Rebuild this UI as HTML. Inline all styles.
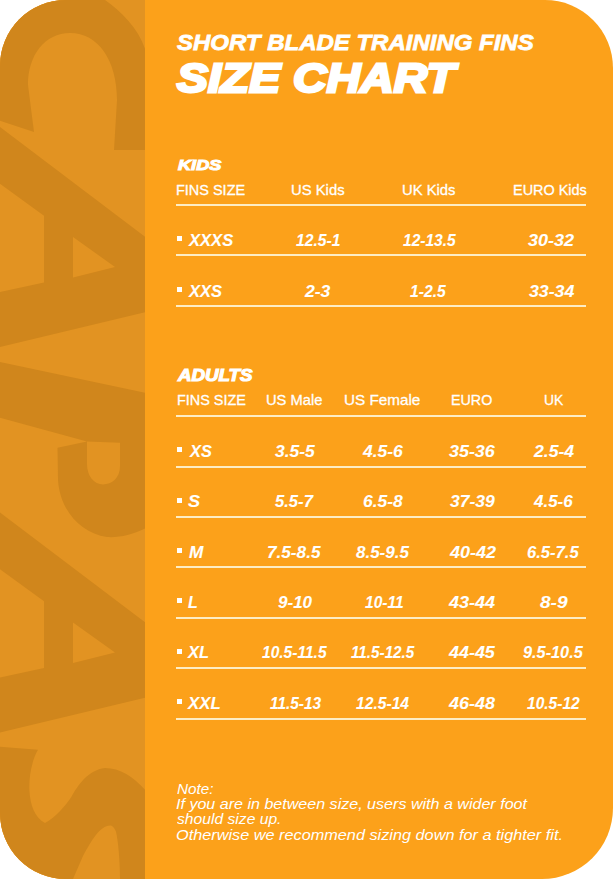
<!DOCTYPE html>
<html><head><meta charset="utf-8">
<style>
html,body{margin:0;padding:0;background:#fff;width:613px;height:879px;overflow:hidden}
body{font-family:"Liberation Sans",sans-serif;color:#fff}
#card{position:absolute;left:0;top:0;width:613px;height:879px;border-radius:66px 68px 71px 66px;overflow:hidden;background:#FCA11A}
#strip{position:absolute;left:0;top:0;width:145px;height:879px;background:#E29322;overflow:hidden}
#capas{position:absolute;left:0;top:0;transform-origin:0 0;font-weight:bold;font-style:italic;color:#D0861C;white-space:nowrap;font-size:215px;line-height:1}
.t{position:absolute;white-space:nowrap;line-height:1;transform-origin:0 0}
.rg{font-weight:normal;font-style:normal}
.it{font-weight:normal;font-style:italic}
.bi{font-weight:bold;font-style:italic}
.hl{position:absolute;left:176px;width:410px;height:2px;background:#FDEDC4}
.b{position:absolute;left:177px;width:5px;height:5px;background:#fff}
</style></head><body>
<div id="card">
  <div id="strip"><svg width="145" height="879" viewBox="0 0 145 879" style="position:absolute;left:0;top:0">
<g fill="#D0861C">
<path d="M -20,-20 L 92,-20 C 98,-12 102,-4 105,0 C 122,12 140,30 146,52 L 150,52 L 150,150 L 114,150 L 117,100 C 117,60 98,33 70,33 C 45,33 28,55 28,85 L 34,132 L -20,114 Z"/>
<path id="A1" fill-rule="evenodd" d="M -20,112 L 150,240.5 L 150,311 L -20,351.8 Z M -20,169 L 44,215.8 L 44,282.4 L -20,296.3 Z M 73,237 L 115,267 L 73,277.5 Z"/>
<path fill-rule="evenodd" d="M -20,357.8 L 150,393.8 L 150,526 C 135,534 120,538 107,537 C 80,533 60,510 58,480 L 57.5,447.7 L 87,441.5 L -20,412.3 Z M 87,441.6 L 120,442.8 L 120,466 C 120,478 112,484.4 103,484.4 C 94,484.4 87,476 87,464 Z"/>
<use href="#A1" transform="translate(0,385.5)"/>
<path d="M -20,745 L 38,749.8 C 31,762 29,778 29.4,790 C 30,805 35,818 45,823 C 55,818 66,805 71,797.5 C 78,785 88,770 105,768 C 122,768 138,780 150,796 L 150,890 L 120,890 L 120,879 C 120,860 118,840 116,831.8 C 114,827 112,825.6 110,825.6 C 100,826 92,840 83,856 L 73,879 L 73,890 L -20,890 Z"/>
</g></svg></div>

  <div class="t bi" style="left:176.66px;top:31.25px;font-size:22.67px;-webkit-text-stroke:0.8px #fff;transform:scaleX(1.0587)">SHORT BLADE TRAINING FINS</div>
<div class="t bi" style="left:177.12px;top:58.45px;font-size:41.41px;-webkit-text-stroke:2.8px #fff;transform:scaleX(1.1214)">SIZE CHART</div>
<div class="t bi" style="left:177.50px;top:157.18px;font-size:15.53px;-webkit-text-stroke:1.1px #fff;transform:scaleX(1.1684)">KIDS</div>
<div class="t bi" style="left:177.60px;top:367.95px;font-size:16.65px;-webkit-text-stroke:1.1px #fff;transform:scaleX(1.1251)">ADULTS</div>
<div class="t rg" style="left:176.21px;top:182.60px;font-size:14.57px;-webkit-text-stroke:0.3px #fff;transform:scaleX(0.9935)">FINS SIZE</div>
<div class="t rg" style="left:290.57px;top:182.55px;font-size:14.57px;-webkit-text-stroke:0.3px #fff;transform:scaleX(1.0178)">US Kids</div>
<div class="t rg" style="left:401.97px;top:182.55px;font-size:14.57px;-webkit-text-stroke:0.3px #fff;transform:scaleX(1.0167)">UK Kids</div>
<div class="t rg" style="left:513.41px;top:182.55px;font-size:14.57px;-webkit-text-stroke:0.3px #fff;transform:scaleX(0.9918)">EURO Kids</div>
<div class="t rg" style="left:176.61px;top:392.80px;font-size:14.57px;-webkit-text-stroke:0.3px #fff;transform:scaleX(0.9898)">FINS SIZE</div>
<div class="t rg" style="left:266.38px;top:393.35px;font-size:14.57px;-webkit-text-stroke:0.3px #fff;transform:scaleX(1.0094)">US Male</div>
<div class="t rg" style="left:344.35px;top:393.35px;font-size:14.57px;-webkit-text-stroke:0.3px #fff;transform:scaleX(1.0477)">US Female</div>
<div class="t rg" style="left:450.62px;top:392.80px;font-size:14.57px;-webkit-text-stroke:0.3px #fff;transform:scaleX(0.9817)">EURO</div>
<div class="t rg" style="left:543.62px;top:392.80px;font-size:14.57px;-webkit-text-stroke:0.3px #fff;transform:scaleX(0.9511)">UK</div>
<div class="t bi" style="left:189.36px;top:231.82px;font-size:16.26px;-webkit-text-stroke:0.1px #fff;transform:scaleX(1.0206)">XXXS</div>
<div class="t bi" style="left:296.16px;top:231.82px;font-size:16.26px;-webkit-text-stroke:0.1px #fff;transform:scaleX(0.9634)">12.5-1</div>
<div class="t bi" style="left:402.56px;top:231.82px;font-size:16.26px;-webkit-text-stroke:0.1px #fff;transform:scaleX(0.9565)">12-13.5</div>
<div class="t bi" style="left:528.00px;top:231.82px;font-size:16.26px;-webkit-text-stroke:0.1px #fff;transform:scaleX(1.1074)">30-32</div>
<div class="t bi" style="left:189.16px;top:282.62px;font-size:16.26px;-webkit-text-stroke:0.1px #fff;transform:scaleX(1.0167)">XXS</div>
<div class="t bi" style="left:305.07px;top:282.62px;font-size:16.26px;-webkit-text-stroke:0.1px #fff;transform:scaleX(1.0801)">2-3</div>
<div class="t bi" style="left:410.36px;top:282.62px;font-size:16.26px;-webkit-text-stroke:0.1px #fff;transform:scaleX(0.9635)">1-2.5</div>
<div class="t bi" style="left:528.60px;top:282.62px;font-size:16.26px;-webkit-text-stroke:0.1px #fff;transform:scaleX(1.0909)">33-34</div>
<div class="t bi" style="left:189.56px;top:442.82px;font-size:16.26px;-webkit-text-stroke:0.1px #fff;transform:scaleX(1.0073)">XS</div>
<div class="t bi" style="left:274.60px;top:442.82px;font-size:16.26px;-webkit-text-stroke:0.1px #fff;transform:scaleX(1.0727)">3.5-5</div>
<div class="t bi" style="left:362.87px;top:442.82px;font-size:16.26px;-webkit-text-stroke:0.1px #fff;transform:scaleX(1.0748)">4.5-6</div>
<div class="t bi" style="left:449.40px;top:442.82px;font-size:16.26px;-webkit-text-stroke:0.1px #fff;transform:scaleX(1.0996)">35-36</div>
<div class="t bi" style="left:533.87px;top:442.82px;font-size:16.26px;-webkit-text-stroke:0.1px #fff;transform:scaleX(1.0811)">2.5-4</div>
<div class="t bi" style="left:188.33px;top:493.22px;font-size:16.26px;-webkit-text-stroke:0.1px #fff;transform:scaleX(1.1220)">S</div>
<div class="t bi" style="left:274.75px;top:493.10px;font-size:16.26px;-webkit-text-stroke:0.1px #fff;transform:scaleX(1.0227)">5.5-7</div>
<div class="t bi" style="left:362.79px;top:493.22px;font-size:16.26px;-webkit-text-stroke:0.1px #fff;transform:scaleX(1.0719)">6.5-8</div>
<div class="t bi" style="left:450.00px;top:493.22px;font-size:16.26px;-webkit-text-stroke:0.1px #fff;transform:scaleX(1.0736)">37-39</div>
<div class="t bi" style="left:534.06px;top:493.22px;font-size:16.26px;-webkit-text-stroke:0.1px #fff;transform:scaleX(1.0429)">4.5-6</div>
<div class="t bi" style="left:188.74px;top:543.62px;font-size:16.26px;-webkit-text-stroke:0.1px #fff;transform:scaleX(1.0594)">M</div>
<div class="t bi" style="left:267.15px;top:543.62px;font-size:16.26px;-webkit-text-stroke:0.1px #fff;transform:scaleX(1.0564)">7.5-8.5</div>
<div class="t bi" style="left:355.74px;top:543.62px;font-size:16.26px;-webkit-text-stroke:0.1px #fff;transform:scaleX(1.0456)">8.5-9.5</div>
<div class="t bi" style="left:450.28px;top:543.62px;font-size:16.26px;-webkit-text-stroke:0.1px #fff;transform:scaleX(1.1032)">40-42</div>
<div class="t bi" style="left:527.43px;top:543.62px;font-size:16.26px;-webkit-text-stroke:0.1px #fff;transform:scaleX(1.0211)">6.5-7.5</div>
<div class="t bi" style="left:187.55px;top:593.63px;font-size:16.26px;-webkit-text-stroke:0.1px #fff;transform:scaleX(0.9869)">L</div>
<div class="t bi" style="left:277.94px;top:593.63px;font-size:16.26px;-webkit-text-stroke:0.1px #fff;transform:scaleX(1.0482)">9-10</div>
<div class="t bi" style="left:364.56px;top:593.63px;font-size:16.26px;-webkit-text-stroke:0.1px #fff;transform:scaleX(0.9582)">10-11</div>
<div class="t bi" style="left:449.48px;top:593.63px;font-size:16.26px;-webkit-text-stroke:0.1px #fff;transform:scaleX(1.1098)">43-44</div>
<div class="t bi" style="left:539.51px;top:593.63px;font-size:16.26px;-webkit-text-stroke:0.1px #fff;transform:scaleX(1.1702)">8-9</div>
<div class="t bi" style="left:187.76px;top:644.23px;font-size:16.26px;-webkit-text-stroke:0.1px #fff;transform:scaleX(1.0151)">XL</div>
<div class="t bi" style="left:262.36px;top:644.23px;font-size:16.26px;-webkit-text-stroke:0.1px #fff;transform:scaleX(0.9571)">10.5-11.5</div>
<div class="t bi" style="left:351.37px;top:644.23px;font-size:16.26px;-webkit-text-stroke:0.1px #fff;transform:scaleX(0.9385)">11.5-12.5</div>
<div class="t bi" style="left:449.48px;top:644.10px;font-size:16.26px;-webkit-text-stroke:0.1px #fff;transform:scaleX(1.1025)">44-45</div>
<div class="t bi" style="left:522.95px;top:644.23px;font-size:16.26px;-webkit-text-stroke:0.1px #fff;transform:scaleX(1.0018)">9.5-10.5</div>
<div class="t bi" style="left:187.77px;top:694.82px;font-size:16.26px;-webkit-text-stroke:0.1px #fff;transform:scaleX(1.0336)">XXL</div>
<div class="t bi" style="left:269.76px;top:694.82px;font-size:16.26px;-webkit-text-stroke:0.1px #fff;transform:scaleX(0.9487)">11.5-13</div>
<div class="t bi" style="left:356.36px;top:694.82px;font-size:16.26px;-webkit-text-stroke:0.1px #fff;transform:scaleX(0.9626)">12.5-14</div>
<div class="t bi" style="left:449.48px;top:694.82px;font-size:16.26px;-webkit-text-stroke:0.1px #fff;transform:scaleX(1.1032)">46-48</div>
<div class="t bi" style="left:527.36px;top:694.82px;font-size:16.26px;-webkit-text-stroke:0.1px #fff;transform:scaleX(0.9562)">10.5-12</div>
<div class="t it" style="left:176.57px;top:781.95px;font-size:14.30px;-webkit-text-stroke:0px #fff;transform:scaleX(1.0697)">Note:</div>
<div class="t it" style="left:176.44px;top:797.40px;font-size:14.30px;-webkit-text-stroke:0px #fff;transform:scaleX(1.1238)">If you are in between size, users with a wider foot</div>
<div class="t it" style="left:177.00px;top:812.00px;font-size:14.30px;-webkit-text-stroke:0px #fff;transform:scaleX(1.0952)">should size up.</div>
<div class="t it" style="left:176.15px;top:827.70px;font-size:14.30px;-webkit-text-stroke:0px #fff;transform:scaleX(1.1378)">Otherwise we recommend sizing down for a tighter fit.</div>
<div class="hl" style="top:204px"></div>
<div class="hl" style="top:254px"></div>
<div class="hl" style="top:305px"></div>
<div class="hl" style="top:415px"></div>
<div class="hl" style="top:466px"></div>
<div class="hl" style="top:516px"></div>
<div class="hl" style="top:566px"></div>
<div class="hl" style="top:617px"></div>
<div class="hl" style="top:667px"></div>
<div class="hl" style="top:718px"></div>
<div class="b" style="top:236px"></div>
<div class="b" style="top:287px"></div>
<div class="b" style="top:447px"></div>
<div class="b" style="top:498px"></div>
<div class="b" style="top:548px"></div>
<div class="b" style="top:598px"></div>
<div class="b" style="top:649px"></div>
<div class="b" style="top:699px"></div>
</div>
</body></html>
